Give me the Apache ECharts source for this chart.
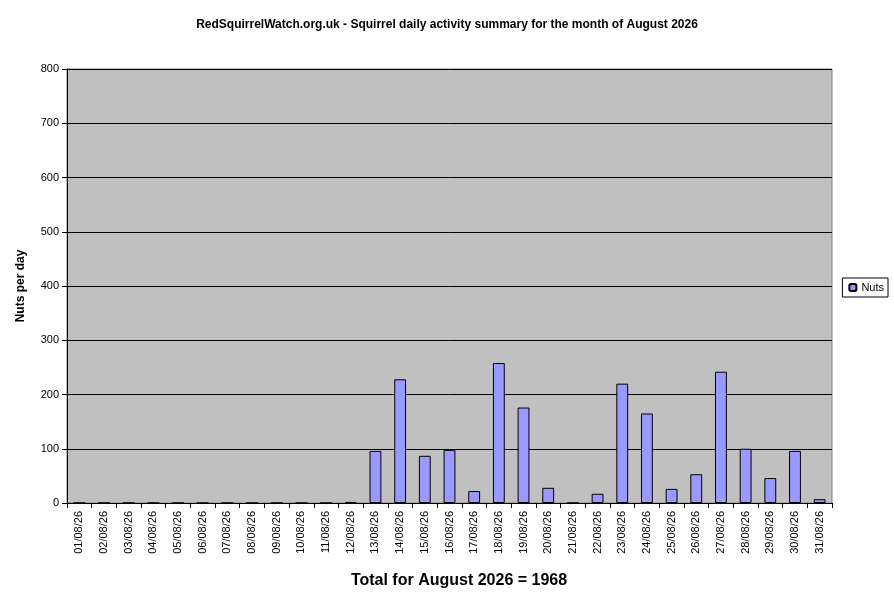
<!DOCTYPE html>
<html><head><meta charset="utf-8">
<script src="https://cdn.jsdelivr.net/npm/echarts@6/dist/echarts.min.js"></script>
<style>html,body{margin:0;padding:0;background:#fff}#c{width:894px;height:609px}</style>
</head><body><div id="c"></div>
<script>
const categories = ["01/08/26","02/08/26","03/08/26","04/08/26","05/08/26","06/08/26","07/08/26","08/08/26","09/08/26","10/08/26","11/08/26","12/08/26","13/08/26","14/08/26","15/08/26","16/08/26","17/08/26","18/08/26","19/08/26","20/08/26","21/08/26","22/08/26","23/08/26","24/08/26","25/08/26","26/08/26","27/08/26","28/08/26","29/08/26","30/08/26","31/08/26"];
const nuts = [0,0,0,0,0,0,0,0,0,0,0,2,96,228,87,98,22,258,176,28,0,17,220,165,26,53,242,100,46,96,7];
const chart = echarts.init(document.getElementById('c'));
chart.setOption({
  animation:false,
  title:[
    {text:'RedSquirrelWatch.org.uk - Squirrel daily activity summary for the month of August 2026',left:'center',top:14,
     textStyle:{fontFamily:'Liberation Sans',fontSize:12,fontWeight:'bold',color:'#000'}},
    {text:'Total for August 2026 = 1968',left:454,textAlign:'center',top:568,
     textStyle:{fontFamily:'Liberation Sans',fontSize:16,fontWeight:'bold',color:'#000'}}
  ],
  legend:{data:['Nuts'],right:6,top:278,orient:'vertical',itemWidth:7,itemHeight:7,itemGap:4,
    borderColor:'#000',borderWidth:1,padding:[4,4,4,6],
    textStyle:{fontFamily:'Liberation Sans',fontSize:11,color:'#000'}},
  grid:{left:67,right:62,top:69,bottom:106,show:true,backgroundColor:'#c0c0c0',borderColor:'#808080',borderWidth:1},
  xAxis:{type:'category',data:categories,
    axisLine:{lineStyle:{color:'#000'}},axisTick:{show:true,lineStyle:{color:'#000'}},
    axisLabel:{rotate:90,interval:0,fontFamily:'Liberation Sans',fontSize:11,color:'#000'}},
  yAxis:{type:'value',min:0,max:800,interval:100,name:'Nuts per day',nameLocation:'middle',nameGap:40,
    nameTextStyle:{fontFamily:'Liberation Sans',fontSize:12,fontWeight:'bold',color:'#000'},
    axisLine:{show:true,lineStyle:{color:'#000'}},axisTick:{show:true,lineStyle:{color:'#000'}},
    axisLabel:{fontFamily:'Liberation Sans',fontSize:11,color:'#000'},
    splitLine:{lineStyle:{color:'#000',width:1}}},
  series:[{name:'Nuts',type:'bar',data:nuts,barWidth:'48%',
    itemStyle:{color:'#9999ff',borderColor:'#000',borderWidth:1}}]
});
</script></body></html>
